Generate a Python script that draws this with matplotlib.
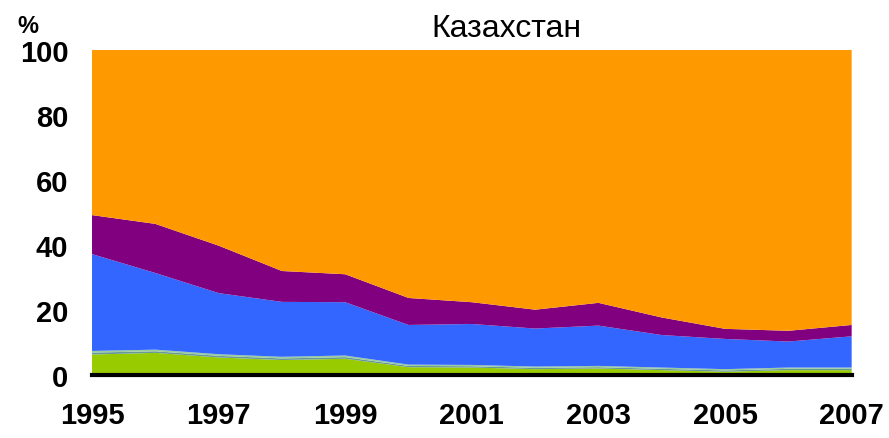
import matplotlib
matplotlib.use("Agg")
import matplotlib.pyplot as plt
import numpy as np

years = [1995, 1996, 1997, 1998, 1999, 2000, 2001, 2002, 2003, 2004, 2005, 2006, 2007]
green = [6.3, 6.8, 5.4, 4.6, 5.0, 2.4, 2.3, 1.8, 2.0, 1.5, 1.0, 1.5, 1.5]
teal = [0.6, 0.5, 0.5, 0.5, 0.5, 0.4, 0.4, 0.4, 0.4, 0.4, 0.4, 0.4, 0.4]
lightgreen = [0.5, 0.5, 0.5, 0.5, 0.5, 0.4, 0.4, 0.4, 0.4, 0.4, 0.4, 0.4, 0.4]
blue_top = [37.2, 31.4, 25.2, 22.5, 22.4, 15.4, 15.7, 14.3, 15.2, 12.3, 11.1, 10.3, 11.9]
purple_top = [49.2, 46.5, 39.8, 32.0, 31.0, 23.7, 22.4, 20.1, 22.2, 17.7, 14.2, 13.6, 15.4]

g = np.array(green)
t = np.array(teal)
lg = np.array(lightgreen)
blue = np.array(blue_top) - g - t - lg
purple = np.array(purple_top) - np.array(blue_top)
orange = 100 - np.array(purple_top)

colors = ["#99CC00", "#669999", "#99CC99", "#3366FF", "#800080", "#FF9900"]

fig = plt.figure(figsize=(8.89, 4.39), dpi=100)
ax = fig.add_axes([0.1035, 0.1435, 0.8545, 0.7403])
ax.stackplot(years, g, t, lg, blue, purple, orange, colors=colors, linewidth=0)
ax.set_xlim(1995, 2007)
ax.set_ylim(0, 100)
ax.set_xticks(list(range(1995, 2008, 2)))
ax.set_yticks(list(range(0, 101, 20)))
for s in ["top", "right", "left"]:
    ax.spines[s].set_visible(False)
ax.spines["bottom"].set_linewidth(3)
ax.spines["bottom"].set_color("black")
ax.tick_params(length=0)
for lab in ax.get_xticklabels() + ax.get_yticklabels():
    lab.set_fontfamily("Liberation Sans")
    lab.set_fontweight("bold")
    lab.set_fontsize(21)
ax.tick_params(axis="y", pad=17)
ax.tick_params(axis="x", pad=19)
fig.text(0.57, 0.935, "Казахстан", ha="center", va="center", fontsize=23, fontfamily="Liberation Sans")
fig.text(0.0315, 0.94, "%", ha="center", va="center", fontsize=17, fontweight="bold", fontfamily="Liberation Sans")
fig.savefig("out.png", dpi=100)
